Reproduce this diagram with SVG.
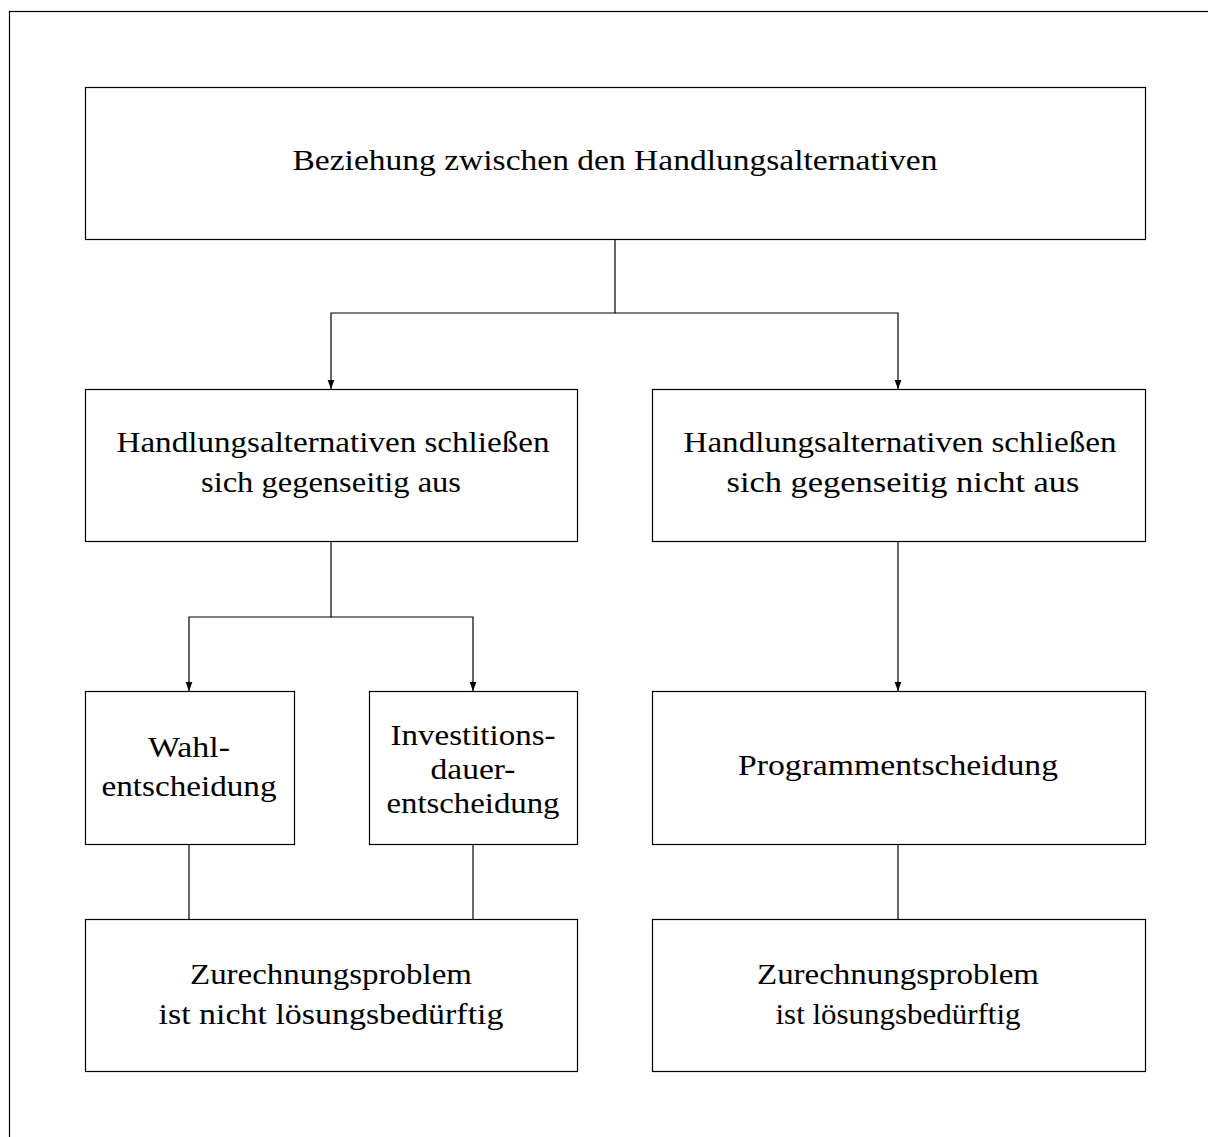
<svg xmlns="http://www.w3.org/2000/svg" width="1208" height="1137" viewBox="0 0 1208 1137">
  <style>
    .box { fill: #ffffff; stroke: #000000; stroke-width: 1.2; }
    .edge { fill: none; stroke: #000000; stroke-width: 1.2; }
  </style>
  <defs>
    <marker id="arrow" markerWidth="9" markerHeight="8" refX="9" refY="4" orient="auto" markerUnits="userSpaceOnUse" viewBox="0 0 9 8">
      <path d="M0,0.6 L9,4 L0,7.4 Z" fill="#000000"/>
    </marker>
  </defs>
  <rect width="1208" height="1137" fill="#ffffff"/>
  <!-- page frame -->
  <rect x="9.5" y="11.5" width="1230" height="1160" fill="none" stroke="#000000" stroke-width="1.2"/>

  <g id="connectors">
    <path class="edge" d="M615,239 V313 H331 V389" marker-end="url(#arrow)"/>
    <path class="edge" d="M615,313 H898 V389" marker-end="url(#arrow)"/>
    <path class="edge" d="M331,541 V617 H189 V691" marker-end="url(#arrow)"/>
    <path class="edge" d="M331,617 H473 V691" marker-end="url(#arrow)"/>
    <path class="edge" d="M898,541 V691" marker-end="url(#arrow)"/>
    <path class="edge" d="M189,844 V919"/>
    <path class="edge" d="M473,844 V919"/>
    <path class="edge" d="M898,844 V919"/>
  </g>

  <g font-family="'Liberation Serif', 'Times New Roman', 'DejaVu Serif', serif" font-size="30" fill="#000000" text-anchor="middle" lengthAdjust="spacingAndGlyphs">
    <g id="root">
      <rect class="box" x="85.5" y="87.5" width="1060" height="152"/>
      <text x="615" y="170" textLength="645" lengthAdjust="spacingAndGlyphs">Beziehung zwischen den Handlungsalternativen</text>
    </g>
    <g id="exclusive">
      <rect class="box" x="85.5" y="389.5" width="492" height="152"/>
      <text x="333" y="452" textLength="433" lengthAdjust="spacingAndGlyphs">Handlungsalternativen schließen</text>
      <text x="331" y="492" textLength="260" lengthAdjust="spacingAndGlyphs">sich gegenseitig aus</text>
    </g>
    <g id="nonexclusive">
      <rect class="box" x="652.5" y="389.5" width="493" height="152"/>
      <text x="900" y="452" textLength="433" lengthAdjust="spacingAndGlyphs">Handlungsalternativen schließen</text>
      <text x="903" y="492" textLength="353" lengthAdjust="spacingAndGlyphs">sich gegenseitig nicht aus</text>
    </g>
    <g id="wahl">
      <rect class="box" x="85.5" y="691.5" width="209" height="153"/>
      <text x="189" y="757" textLength="82" lengthAdjust="spacingAndGlyphs">Wahl-</text>
      <text x="189" y="796" textLength="175" lengthAdjust="spacingAndGlyphs">entscheidung</text>
    </g>
    <g id="dauer">
      <rect class="box" x="369.5" y="691.5" width="208" height="153"/>
      <text x="473" y="745" textLength="165" lengthAdjust="spacingAndGlyphs">Investitions-</text>
      <text x="473" y="779" textLength="85" lengthAdjust="spacingAndGlyphs">dauer-</text>
      <text x="473" y="813" textLength="173" lengthAdjust="spacingAndGlyphs">entscheidung</text>
    </g>
    <g id="programm">
      <rect class="box" x="652.5" y="691.5" width="493" height="153"/>
      <text x="898" y="775" textLength="320" lengthAdjust="spacingAndGlyphs">Programmentscheidung</text>
    </g>
    <g id="zurechnung-nein">
      <rect class="box" x="85.5" y="919.5" width="492" height="152"/>
      <text x="331" y="984" textLength="282" lengthAdjust="spacingAndGlyphs">Zurechnungsproblem</text>
      <text x="331" y="1024" textLength="345" lengthAdjust="spacingAndGlyphs">ist nicht lösungsbedürftig</text>
    </g>
    <g id="zurechnung-ja">
      <rect class="box" x="652.5" y="919.5" width="493" height="152"/>
      <text x="898" y="984" textLength="282" lengthAdjust="spacingAndGlyphs">Zurechnungsproblem</text>
      <text x="898" y="1024" textLength="245" lengthAdjust="spacingAndGlyphs">ist lösungsbedürftig</text>
    </g>
  </g>
</svg>
